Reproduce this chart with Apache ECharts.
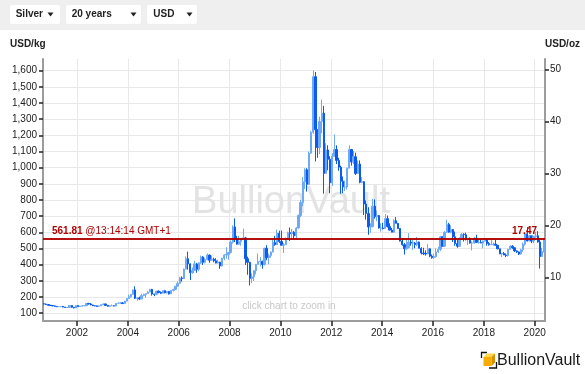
<!DOCTYPE html>
<html><head><meta charset="utf-8">
<script src="https://cdn.jsdelivr.net/npm/echarts@6/dist/echarts.min.js"></script>
<style>html,body{margin:0;padding:0;background:#fff}#c{width:585px;height:374px}</style>
</head><body><div id="c"></div>
<script>
// ---- data (USD/oz, monthly bars, first bar = Sep 2000) ----
const startYear = 2000, startMonth = 9;
const opens = [
 4.93,4.88,4.78,4.65,
 4.60,4.52,4.42,4.35,4.38,4.43,4.30,4.22,4.24,4.60,4.26,4.12,
 4.58,4.38,4.48,4.55,4.57,5.00,4.88,4.70,4.55,4.53,4.42,4.52,
 4.75,4.90,4.62,4.45,4.55,4.55,4.50,5.00,5.05,5.10,5.00,5.45,
 5.95,6.30,6.75,7.60,6.00,6.05,5.85,6.50,6.75,6.90,7.20,7.70,
 6.80,6.75,7.35,7.10,6.95,7.45,7.05,7.30,6.85,7.50,7.70,8.30,
 8.83,9.90,9.80,11.60,13.60,12.60,10.90,11.35,12.60,11.55,12.80,13.90,
 12.90,13.45,14.30,13.30,13.50,13.20,12.75,12.95,12.20,13.70,14.30,14.40,
 14.80,16.80,19.70,17.30,16.40,16.90,17.50,17.60,13.60,12.90,9.80,10.10,
 11.30,12.50,13.10,13.10,12.50,15.60,13.80,14.20,14.90,16.70,16.30,18.50,
 16.90,16.20,16.30,17.50,18.60,18.40,18.70,18.00,19.50,21.90,24.40,28.40,
 30.70,27.90,33.90,37.90,48.60,38.40,35.00,40.00,41.60,30.00,34.50,32.70,
 28.20,33.30,34.60,32.50,31.20,28.50,27.40,27.40,31.00,34.60,32.20,33.20,
 30.00,31.80,28.30,28.40,24.10,22.30,19.70,19.80,23.70,21.70,21.90,19.50,
 19.50,19.40,21.30,19.80,19.10,18.70,20.90,20.40,19.40,17.00,16.30,15.50,
 15.70,16.80,16.60,16.60,16.30,16.80,15.60,14.70,14.60,14.50,15.50,14.10,
 13.80,14.00,14.90,15.40,17.80,16.00,18.70,20.20,18.70,19.20,17.80,16.50,
 16.00,17.50,18.30,18.20,17.30,17.40,16.60,16.60,17.50,16.70,16.70,16.60,
 17.00,17.20,16.50,16.30,16.30,16.40,16.20,15.50,14.50,14.60,14.30,14.20,
 15.40,16.00,15.70,15.10,14.90,14.50,15.30,16.40,18.40,17.00,18.00,17.00,
 17.90,18.00,16.80,14.00,15.00
];
const highs = [
 5.05,4.95,4.80,4.65,
 4.62,4.60,4.45,4.42,4.50,4.50,4.32,4.30,4.66,4.62,4.28,4.64,
 4.62,4.50,4.70,4.62,5.05,5.10,5.05,4.75,4.65,4.58,4.60,4.85,
 4.95,4.95,4.70,4.65,4.80,4.60,5.00,5.20,5.25,5.25,5.50,5.96,
 6.70,6.80,7.65,8.29,6.15,6.30,6.85,6.90,6.90,7.35,7.80,7.80,
 6.85,7.40,7.50,7.30,7.50,7.50,7.35,7.40,7.55,7.80,8.35,9.25,
 10.10,10.20,11.70,14.05,14.95,12.70,11.90,13.20,12.80,12.90,14.20,14.10,
 13.80,14.60,14.40,14.20,13.80,13.70,13.40,13.00,13.70,14.45,15.80,14.90,
 17.10,20.00,21.35,18.00,18.00,17.60,19.40,17.80,14.00,13.00,10.75,11.40,
 12.60,14.60,13.90,13.20,15.70,16.20,14.60,15.00,17.40,18.00,19.20,19.00,
 19.00,16.60,17.70,18.80,19.60,19.30,18.90,19.70,22.10,24.90,29.30,31.00,
 31.00,34.20,38.20,49.80,49.50,38.40,40.90,44.20,43.00,35.80,35.40,33.30,
 33.90,37.50,35.40,33.00,31.50,29.40,28.60,31.10,35.40,34.70,34.30,34.00,
 32.50,32.50,29.30,28.50,24.80,23.50,20.40,25.10,25.00,22.90,22.00,20.40,
 20.50,22.20,21.90,20.40,19.50,21.20,21.60,20.50,19.50,17.50,16.60,17.30,
 18.50,17.40,17.30,16.80,17.80,16.90,15.80,15.70,15.20,16.40,15.60,14.40,
 14.60,15.60,15.90,18.00,17.90,18.90,21.10,20.50,20.00,19.30,18.80,17.20,
 17.70,18.50,18.50,18.60,17.50,17.70,16.90,17.80,18.20,17.40,17.30,17.10,
 17.60,17.40,16.80,17.40,16.70,17.30,16.20,15.50,14.70,14.90,14.60,15.50,
 16.20,16.20,15.80,15.20,15.00,15.50,16.70,18.60,19.70,18.20,18.00,18.00,
 18.80,18.90,17.20,15.70,17.60
];
const lows = [
 4.80,4.72,4.60,4.55,
 4.48,4.42,4.30,4.32,4.30,4.25,4.18,4.15,4.18,4.18,4.05,4.12,
 4.38,4.35,4.44,4.50,4.55,4.80,4.65,4.50,4.46,4.40,4.40,4.50,
 4.70,4.55,4.38,4.38,4.50,4.48,4.45,4.95,4.95,4.85,4.95,5.40,
 5.95,6.10,6.70,5.85,5.50,5.70,5.85,6.40,6.10,6.85,7.15,6.50,
 6.40,6.60,6.95,6.80,6.95,6.95,6.90,6.70,6.85,7.30,7.65,8.20,
 8.80,9.20,9.70,11.60,11.50,9.50,10.70,11.30,10.90,11.20,12.60,12.40,
 12.70,13.30,12.80,13.30,12.90,12.70,12.70,11.65,12.10,13.30,13.60,13.40,
 14.60,16.50,16.80,16.30,16.30,16.10,17.30,12.40,10.50,8.45,8.90,9.30,
 10.60,12.40,12.10,11.70,12.30,13.30,12.50,13.80,14.80,16.10,16.30,16.60,
 16.10,14.70,16.30,17.40,17.00,17.60,17.40,17.50,19.40,21.60,23.70,27.00,
 26.50,27.80,33.80,37.60,32.30,33.00,33.70,37.70,26.10,30.00,30.60,26.20,
 27.60,33.20,31.80,30.50,26.10,26.20,26.60,26.90,31.00,31.50,31.80,29.70,
 29.90,28.10,28.10,22.00,21.10,18.20,18.60,19.60,21.30,20.80,19.40,18.80,
 19.20,19.30,19.60,19.00,18.70,18.60,20.40,19.30,16.90,16.10,14.40,15.30,
 15.60,16.10,15.30,15.60,16.00,15.60,14.40,14.30,14.20,14.50,13.90,13.60,
 13.60,13.80,14.70,15.10,15.90,15.90,18.60,18.60,18.50,16.80,16.10,15.70,
 15.90,17.30,16.90,17.10,16.20,16.50,15.20,16.50,16.70,16.50,16.60,15.60,
 16.90,16.10,16.10,16.20,16.10,16.10,15.40,14.50,13.90,14.30,13.90,14.00,
 15.30,15.50,14.90,14.70,14.30,14.40,14.90,16.10,16.90,17.00,16.60,16.60,
 17.60,16.70,11.70,14.00,14.80
];
const closes = [
 4.88,4.78,4.65,4.60,
 4.52,4.42,4.35,4.38,4.43,4.30,4.22,4.24,4.60,4.26,4.12,4.58,
 4.38,4.48,4.55,4.57,5.00,4.88,4.70,4.55,4.53,4.42,4.52,4.75,
 4.90,4.62,4.45,4.55,4.55,4.50,5.00,5.05,5.10,5.00,5.45,5.95,
 6.30,6.75,7.60,6.00,6.05,5.85,6.50,6.75,6.90,7.20,7.70,6.80,
 6.75,7.35,7.10,6.95,7.45,7.05,7.30,6.85,7.50,7.70,8.30,8.83,
 9.90,9.80,11.60,13.60,12.60,10.90,11.35,12.60,11.55,12.80,13.90,12.90,
 13.45,14.30,13.30,13.50,13.20,12.75,12.95,12.20,13.70,14.30,14.40,14.80,
 16.80,19.70,17.30,16.40,16.90,17.50,17.60,13.60,12.90,9.80,10.10,11.30,
 12.50,13.10,13.10,12.50,15.60,13.80,14.20,14.90,16.70,16.30,18.50,16.90,
 16.20,16.30,17.50,18.60,18.40,18.70,18.00,19.50,21.90,24.40,28.40,30.70,
 27.90,33.90,37.90,48.60,38.40,35.00,40.00,41.60,30.00,34.50,32.70,28.20,
 33.30,34.60,32.50,31.20,28.50,27.40,27.40,31.00,34.60,32.20,33.20,30.00,
 31.80,28.30,28.40,24.10,22.30,19.70,19.80,23.70,21.70,21.90,19.50,19.50,
 19.40,21.30,19.80,19.10,18.70,20.90,20.40,19.40,17.00,16.30,15.50,15.70,
 16.80,16.60,16.60,16.30,16.80,15.60,14.70,14.60,14.50,15.50,14.10,13.80,
 14.00,14.90,15.40,17.80,16.00,18.70,20.20,18.70,19.20,17.80,16.50,16.00,
 17.50,18.30,18.20,17.30,17.40,16.60,16.60,17.50,16.70,16.70,16.60,17.00,
 17.20,16.50,16.30,16.30,16.40,16.20,15.50,14.50,14.60,14.30,14.20,15.40,
 16.00,15.70,15.10,14.90,14.50,15.30,16.40,18.40,17.00,18.00,17.00,17.90,
 18.00,16.80,14.00,15.00,17.47
];
const yearTicks = [2002, 2004, 2006, 2008, 2010, 2012, 2014, 2016, 2018, 2020];
const kgTicks = [100, 200, 300, 400, 500, 600, 700, 800, 900, 1000, 1100, 1200, 1300, 1400, 1500, 1600];
const ozTicks = [10, 20, 30, 40, 50];
const currentKg = 561.81;
const currentOz = 17.47;
const currentTime = '@13:14:14 GMT+1';
const menuItems = ['Silver', '20 years', 'USD'];
const leftUnit = 'USD/kg', rightUnit = 'USD/oz';
const brand = 'BullionVault';
const hint = 'click chart to zoom in';

// ---- chart ----
const OZ_PER_KG = 32.1507;
const ozMin = 1.62, ozMax = 52;
const xMin = 2000.664, xMax = 2020.405;
const FONT = 'Liberation Sans, Arial, sans-serif';
const candles = opens.map((o, i) => [startYear + (startMonth - 1 + i + 0.5) / 12, o, closes[i], lows[i], highs[i]]);

const axisLineStyle = { color: '#9c9c9c', width: 2 };
const tickStyle = { color: '#222', width: 1.5 };
const labelBase = { color: '#222', fontSize: 10, fontFamily: FONT };
const red = '#b00000';

const menuBoxes = [[10, 50, 15.7, 50.5], [66, 75, 71.7, 133.5], [147, 50, 153.3, 189.5]];
const graphic = [
  { type: 'rect', z: -5, shape: { x: 0, y: 0, width: 585, height: 30 }, style: { fill: '#efefef' } },
  { type: 'text', z: 1, x: 291, y: 203, style: { text: brand, fill: '#e3e3e3', fontSize: 38, fontFamily: FONT, align: 'center', verticalAlign: 'middle' } },
  { type: 'text', z: 1, x: 289, y: 306, style: { text: hint, fill: '#c8c8c8', fontSize: 10, fontFamily: FONT, align: 'center', verticalAlign: 'middle' } },
  { type: 'text', x: 10, y: 44, style: { text: leftUnit, fill: '#222', fontSize: 10, fontWeight: 'bold', fontFamily: FONT, verticalAlign: 'middle' } },
  { type: 'text', x: 545, y: 44, style: { text: rightUnit, fill: '#222', fontSize: 10, fontWeight: 'bold', fontFamily: FONT, verticalAlign: 'middle' } },
  // logo
  { type: 'polygon', shape: { points: [[483.5, 357], [487, 353.5], [495, 353.5], [491.5, 357]] }, style: { fill: '#ffd54a' } },
  { type: 'polygon', shape: { points: [[491.5, 357], [495, 353.5], [495, 362.5], [491.5, 366]] }, style: { fill: '#d98f00' } },
  { type: 'rect', shape: { x: 483.5, y: 357, width: 8, height: 9 }, style: { fill: '#f6ad00' } },
  { type: 'polyline', shape: { points: [[481.5, 358], [481.5, 352.5], [487, 352.5]] }, style: { stroke: '#111', lineWidth: 1.3, fill: null } },
  { type: 'polyline', shape: { points: [[489, 368], [496.5, 368], [496.5, 362]] }, style: { stroke: '#111', lineWidth: 1.3, fill: null } },
  { type: 'text', x: 497, y: 361, style: { text: brand, fill: '#1a1a1a', fontSize: 16, fontFamily: FONT, verticalAlign: 'middle' } }
];
menuItems.forEach((m, i) => {
  const [bx, bw, tx, ax] = menuBoxes[i];
  graphic.push({ type: 'rect', shape: { x: bx, y: 5, width: bw, height: 19, r: 2 }, style: { fill: '#fff' } });
  graphic.push({ type: 'text', x: tx, y: 14.5, style: { text: m, fill: '#222', fontSize: 10, fontWeight: 'bold', fontFamily: FONT, verticalAlign: 'middle' } });
  graphic.push({ type: 'polygon', shape: { points: [[ax - 3, 12.5], [ax + 3, 12.5], [ax, 16.5]] }, style: { fill: '#222' } });
});

const chart = echarts.init(document.getElementById('c'), null, { renderer: 'canvas' });
chart.setOption({
  animation: false,
  backgroundColor: '#fff',
  graphic: graphic,
  grid: { left: 43, right: 40, top: 59, bottom: 53, containLabel: false },
  xAxis: {
    type: 'value', min: xMin, max: xMax,
    axisLine: { show: true, onZero: false, lineStyle: axisLineStyle },
    axisTick: { show: true, customValues: yearTicks, length: 5, lineStyle: tickStyle },
    axisLabel: Object.assign({ customValues: yearTicks, margin: 7, formatter: v => String(v) }, labelBase),
    splitLine: { show: true, lineStyle: { color: '#e8e8e8', width: 1 } }
  },
  yAxis: [
    {
      type: 'value', position: 'left', min: ozMin * OZ_PER_KG, max: ozMax * OZ_PER_KG,
      axisLine: { show: true, lineStyle: axisLineStyle },
      axisTick: { show: true, customValues: kgTicks, length: 4, lineStyle: tickStyle },
      axisLabel: Object.assign({ customValues: kgTicks, margin: 6, formatter: v => Number(v).toLocaleString('en-US') }, labelBase),
      splitLine: { show: true, lineStyle: { color: '#e8e8e8', width: 1 } }
    },
    {
      type: 'value', position: 'right', min: ozMin, max: ozMax,
      axisLine: { show: true, lineStyle: axisLineStyle },
      axisTick: { show: true, customValues: ozTicks, length: 4, lineStyle: tickStyle },
      axisLabel: Object.assign({ customValues: ozTicks, margin: 5, formatter: v => String(v) }, labelBase),
      splitLine: { show: false }
    }
  ],
  series: [{
    type: 'candlestick', yAxisIndex: 1, data: candles, barWidth: 1.8, z: 3,
    itemStyle: { color: '#6fa9f5', color0: '#0b5bec', borderColor: '#6fa9f5', borderColor0: '#0b5bec', borderWidth: 1 },
    markLine: {
      silent: true, symbol: ['none', 'none'], animation: false,
      lineStyle: { color: red, width: 1.5, type: 'solid' },
      emphasis: { disabled: true },
      data: [
        { yAxis: currentOz, label: { show: true, position: 'insideStartTop', distance: [9, 2], color: red, fontSize: 10, fontFamily: FONT,
          formatter: '{b|' + currentKg.toFixed(2) + '} ' + currentTime,
          rich: { b: { fontWeight: 'bold', color: red, fontSize: 10, fontFamily: FONT } } } },
        { yAxis: currentOz, label: { show: true, position: 'insideEndTop', distance: [8, 2], color: red, fontWeight: 'bold', fontSize: 10, fontFamily: FONT,
          formatter: currentOz.toFixed(2) } }
      ]
    }
  }]
});
</script>
</body></html>
